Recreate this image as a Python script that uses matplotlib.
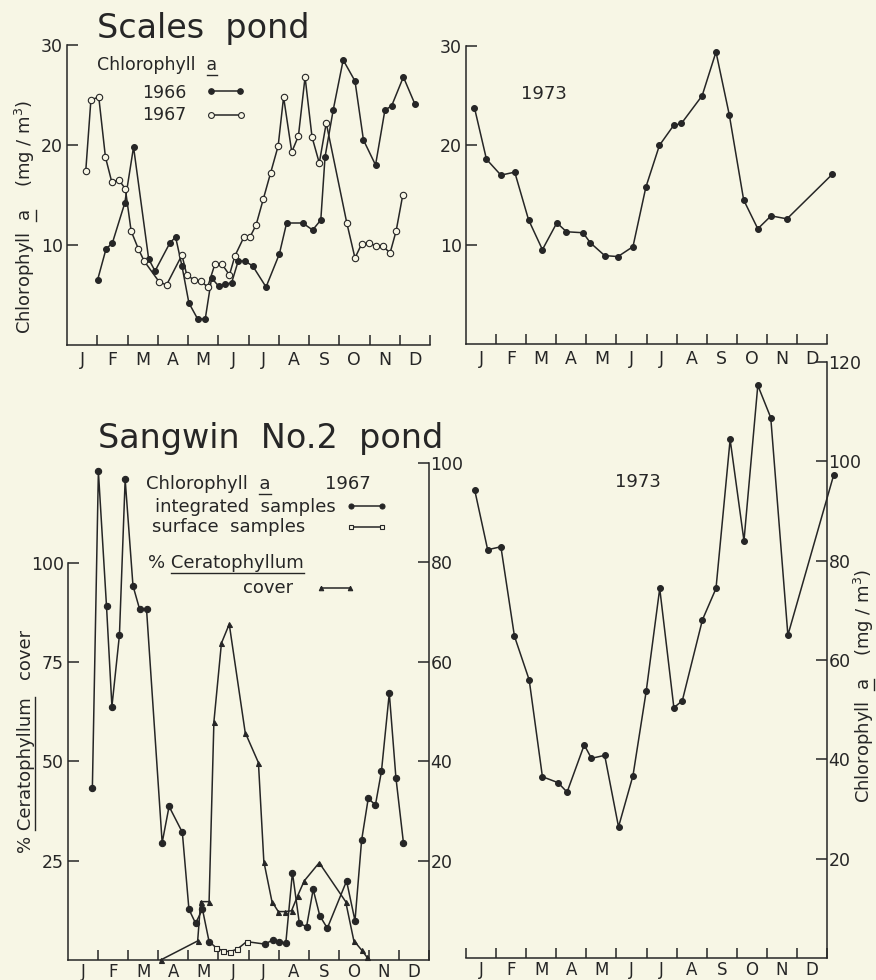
import numpy as np
import matplotlib.pyplot as plt
from matplotlib.lines import Line2D
from matplotlib.ticker import FixedLocator, FixedFormatter, NullFormatter

W, H = 876, 980
BG = '#f7f6e5'
INK = '#262626'

months = ['J', 'F', 'M', 'A', 'M', 'J', 'J', 'A', 'S', 'O', 'N', 'D']

# Scales pond, chlorophyll a (mg/m3); time in months from 1 January
scales66_t = [1.01, 1.29, 1.50, 1.91, 2.20, 2.70, 2.91, 3.40, 3.59, 3.80, 4.03, 4.32,
              4.57, 4.78, 5.01, 5.23, 5.44, 5.66, 5.88, 6.14, 6.58, 7.02, 7.26, 7.79,
              8.12, 8.39, 8.53, 8.80, 9.13, 9.52, 9.80, 10.20, 10.51, 10.73, 11.12, 11.50]
scales66_v = [6.5, 9.6, 10.2, 14.2, 19.8, 8.6, 7.4, 10.2, 10.8, 7.9, 4.2, 2.6,
              2.6, 6.7, 5.9, 6.1, 6.2, 8.4, 8.4, 7.9, 5.8, 9.1, 12.2, 12.2,
              11.5, 12.5, 18.8, 23.5, 28.5, 26.4, 20.5, 18.0, 23.5, 23.9, 26.8, 24.1]

scales67_t = [0.62, 0.79, 1.05, 1.27, 1.48, 1.72, 1.93, 2.12, 2.36, 2.55, 3.05, 3.29,
              3.80, 3.96, 4.20, 4.42, 4.65, 4.89, 5.12, 5.37, 5.55, 5.85, 6.05, 6.25,
              6.49, 6.73, 6.98, 7.16, 7.43, 7.65, 7.87, 8.10, 8.34, 8.57, 9.25, 9.52,
              9.74, 9.98, 10.22, 10.44, 10.68, 10.88, 11.10]
scales67_v = [17.4, 24.5, 24.8, 18.8, 16.3, 16.5, 15.6, 11.4, 9.6, 8.4, 6.3, 6.0,
              9.0, 7.0, 6.5, 6.4, 5.8, 8.1, 8.1, 7.0, 8.9, 10.8, 10.8, 12.0,
              14.6, 17.2, 19.9, 24.8, 19.3, 20.9, 26.8, 20.8, 18.2, 22.2, 12.2, 8.7,
              10.1, 10.2, 9.9, 9.9, 9.2, 11.4, 15.0]

scales73_t = [0.28, 0.68, 1.16, 1.62, 2.08, 2.54, 3.02, 3.34, 3.89, 4.13, 4.61, 5.05,
              5.55, 5.98, 6.43, 6.90, 7.16, 7.85, 8.31, 8.75, 9.23, 9.70, 10.14, 10.67, 12.18]
scales73_v = [23.8, 18.6, 17.0, 17.3, 12.5, 9.5, 12.2, 11.3, 11.2, 10.2, 8.9, 8.8,
              9.8, 15.8, 20.0, 22.0, 22.2, 25.0, 29.4, 23.1, 14.5, 11.6, 12.9, 12.6, 17.1]

# Sangwin No.2 pond 1967: integrated samples (chl a), surface samples, % cover
integ_t = [0.81, 1.01, 1.28, 1.46, 1.71, 1.90, 2.16, 2.38, 2.61, 3.13, 3.36, 3.80,
           4.02, 4.24, 4.47, 4.69,
           6.54, 6.80, 7.02, 7.24, 7.46, 7.69, 7.93, 8.15, 8.37, 8.62, 9.26, 9.54,
           9.76, 9.98, 10.22, 10.42, 10.68, 10.90, 11.15]
integ_v = [34.6, 98.3, 71.2, 51.0, 65.4, 96.7, 75.3, 70.6, 70.6, 23.6, 30.9, 25.7,
           10.2, 7.4, 10.2, 3.7,
           3.2, 4.0, 3.7, 3.4, 17.6, 7.4, 6.7, 14.2, 8.9, 6.4, 15.9, 7.9,
           24.1, 32.5, 31.2, 38.0, 53.7, 36.7, 23.6]
gap = 16  # surface samples stand in between integ[gap-1] and integ[gap]

surf_t = [4.92, 5.16, 5.39, 5.63, 5.94]
surf_v = [2.5, 1.8, 1.7, 2.2, 3.7]

cover_t = [3.08, 4.31, 4.41, 4.69, 4.85, 5.10, 5.36, 5.89, 6.33, 6.51, 6.78, 6.99,
           7.21, 7.43, 7.63, 7.85, 8.35, 9.23, 9.50, 9.76, 9.93]
cover_v = [0, 4.8, 14.7, 14.7, 60.0, 79.8, 84.6, 57.3, 49.7, 24.8, 14.7, 12.2,
           12.2, 12.4, 16.1, 19.9, 24.5, 14.7, 4.9, 2.5, 0.8]

sangwin73_t = [0.29, 0.72, 1.16, 1.61, 2.10, 2.54, 3.06, 3.36, 3.93, 4.17, 4.61, 5.07,
               5.55, 5.99, 6.44, 6.91, 7.19, 7.86, 8.31, 8.78, 9.24, 9.70, 10.13, 10.70, 12.22]
sangwin73_v = [94.2, 82.2, 82.8, 64.8, 56.0, 36.5, 35.3, 33.4, 42.9, 40.2, 40.8, 26.4,
               36.7, 53.7, 74.4, 50.4, 51.8, 68.1, 74.4, 104.4, 84.0, 115.3, 108.8, 65.0, 97.2]

plt.rcParams['font.family'] = 'DejaVu Sans'
plt.rcParams['mathtext.fontset'] = 'dejavusans'

fig = plt.figure(figsize=(W / 100, H / 100), dpi=100, facecolor=BG)
LW = 1.1


def fx(x):
    return x / W


def fy(y):
    return 1 - y / H


def panel(x0, x1, y_top, y_bot, ymax, first_tick=1, xpad=4, xsize=12.5):
    ax = fig.add_axes([fx(x0), fy(y_bot), (x1 - x0) / W, (y_bot - y_top) / H])
    ax.set_xlim(0, 12)
    ax.set_ylim(0, ymax)
    ax.patch.set_visible(False)
    for s in ax.spines.values():
        s.set_color(INK)
        s.set_linewidth(LW)
    ax.spines['top'].set_visible(False)
    ax.spines['right'].set_visible(False)
    ax.xaxis.set_major_locator(FixedLocator(list(range(first_tick, 13))))
    ax.xaxis.set_major_formatter(NullFormatter())
    ax.xaxis.set_minor_locator(FixedLocator(list(np.arange(0.5, 12, 1.0))))
    ax.xaxis.set_minor_formatter(FixedFormatter(months))
    ax.tick_params(axis='x', which='major', direction='in', length=7, width=LW, color=INK)
    ax.tick_params(axis='x', which='minor', length=0, pad=xpad, labelsize=xsize,
                   labelcolor=INK)
    ax.tick_params(axis='y', direction='in', length=8, width=LW, color=INK,
                   labelsize=12.5, labelcolor=INK, pad=3)
    return ax


def right_axis(ax, ticks):
    ax.spines['right'].set_visible(True)
    ax.spines['right'].set_color(INK)
    ax.spines['right'].set_linewidth(LW)
    ax.set_yticks(ticks)
    ax.tick_params(axis='y', left=False, right=True, labelleft=False, labelright=True,
                   direction='in', length=8, width=LW, color=INK, pad=1,
                   labelsize=12.5, labelcolor=INK)


def series(ax, t, v, marker, filled=True, ms=4.5):
    ax.plot(t, v, color=INK, lw=LW, marker=marker, ms=ms,
            mfc=INK if filled else BG, mec=INK, mew=0.8, clip_on=False)


def text(x, y, s, size=13, rot=0, under=None, off=None):
    # x, y: pixel position of the start of the baseline
    t = fig.text(fx(x), fy(y), s, fontsize=size, rotation=rot, rotation_mode='anchor',
                 ha='left', va='baseline', color=INK)
    if under:
        r = fig.canvas.get_renderer()
        fp = t.get_fontproperties()
        i = s.index(under) + len(under)
        w1 = r.get_text_width_height_descent(s[:i], fp, ismath=False)[0]
        w0 = w1 - r.get_text_width_height_descent(under, fp, ismath=False)[0]
        d = off if off is not None else size * 0.42
        if rot == 0:
            xs, ys = [x + w0, x + w1], [y + d, y + d]
        else:
            xs, ys = [x + d, x + d], [y - w0, y - w1]
        fig.add_artist(Line2D([fx(v) for v in xs], [fy(v) for v in ys],
                              color=INK, lw=1.0))
    return t


def key(x0, x1, y, marker, filled=True, ms=3.5):
    fig.add_artist(Line2D([fx(x0), fx(x1)], [fy(y), fy(y)], color=INK, lw=LW,
                          marker=marker, ms=ms, mfc=INK if filled else BG,
                          mec=INK, mew=0.8))


# Scales pond 1966 / 1967
ax1 = panel(67, 430, 45, 345, 30)
ax1.set_yticks([10, 20, 30])
series(ax1, scales66_t, scales66_v, 'o', True, 4.2)
series(ax1, scales67_t, scales67_v, 'o', False, 4.6)

# Scales pond 1973
ax2 = panel(466, 827, 46, 344, 30)
ax2.set_yticks([10, 20, 30])
series(ax2, scales73_t, scales73_v, 'o', True, 4.2)

# Sangwin No.2 pond 1967: cover on the left axis, chlorophyll on the right
ax3 = panel(68, 429, 463, 960, (960 - 463) / 3.97, xpad=2, xsize=12)
ax3.set_yticks([25, 50, 75, 100])
ax3.spines['left'].set_bounds(0, 100)
ax3r = ax3.twinx()
ax3r.set_ylim(0, 100)
ax3r.patch.set_visible(False)
for side in ['top', 'left', 'bottom']:
    ax3r.spines[side].set_visible(False)
right_axis(ax3r, [20, 40, 60, 80, 100])

series(ax3, cover_t, cover_v, '^', True, 3.6)
series(ax3r, integ_t[:gap], integ_v[:gap], 'o', True, 4.5)
series(ax3r, integ_t[gap:], integ_v[gap:], 'o', True, 4.5)
ax3r.plot([integ_t[gap - 1]] + surf_t + [integ_t[gap]],
          [integ_v[gap - 1]] + surf_v + [integ_v[gap]],
          color=INK, lw=LW, clip_on=False)
ax3r.plot(surf_t, surf_v, ls='none', marker='s', ms=3.6, mfc=BG, mec=INK, mew=0.8,
          clip_on=False)

# Sangwin No.2 pond 1973
ax4 = panel(466, 827, 362, 958, 120, first_tick=0, xpad=2, xsize=12)
ax4.spines['left'].set_visible(False)
right_axis(ax4, [20, 40, 60, 80, 100, 120])
series(ax4, sangwin73_t, sangwin73_v, 'o', True, 4.2)

# titles and labels
text(97, 38, 'Scales  pond', size=24)
text(98, 448, 'Sangwin  No.2  pond', size=24)

text(97, 70, 'Chlorophyll  a', size=12.5, under='a', off=5)
text(142, 98, '1966', size=12.5)
text(142, 120, '1967', size=12.5)
key(211, 240, 91, 'o', True, 4)
key(211, 241, 115, 'o', False, 4.2)

text(31, 334, 'Chlorophyll  a    (mg / m$^3$)', size=13, rot=90, under='a', off=5)
text(521, 99, '1973', size=13)

text(146, 489, 'Chlorophyll  a', size=13, under='a', off=5)
text(325, 489, '1967', size=13)
text(155, 512, 'integrated  samples', size=13)
key(351, 382, 506, 'o', True, 3.6)
text(152, 532, 'surface  samples', size=13)
key(351, 382, 527, 's', False, 3.2)
text(148, 568, '% Ceratophyllum', size=13, under='Ceratophyllum', off=5)
text(243, 593, 'cover', size=13)
key(321, 350, 588, '^', True, 3.2)

text(31, 853, '% Ceratophyllum   cover', size=13, rot=90, under='Ceratophyllum', off=4)
text(615, 487, '1973', size=13)
text(870, 803, 'Chlorophyll  a    (mg / m$^3$)', size=13, rot=90, under='a', off=4)

fig.savefig('out.png', dpi=100, facecolor=BG)
